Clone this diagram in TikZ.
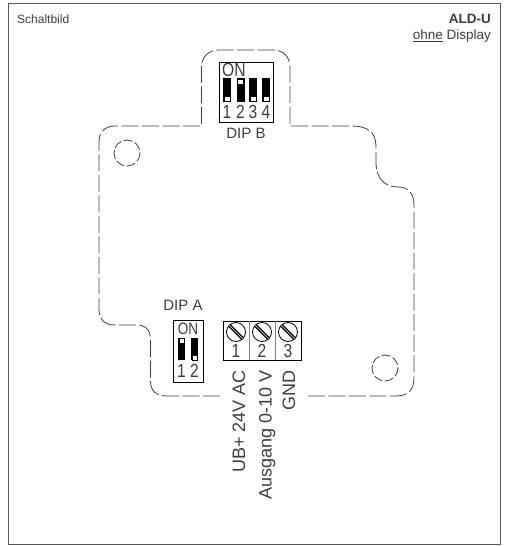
\documentclass[tikz,border=0pt]{standalone}
\usepackage{fontspec}
\setmainfont{Liberation Sans}
\newfontfamily\narrowfont[FakeStretch=0.82]{Liberation Sans}
\definecolor{ink}{gray}{0.24}
\begin{document}
\begin{tikzpicture}
  [x=1pt,y=-1pt,
   every node/.style={inner sep=0pt,text=ink,font=\fontsize{12}{13}\selectfont},
   corner/.style={font=\fontsize{13.5}{14}\selectfont},
   digit/.style={font=\narrowfont\fontsize{19}{19}\selectfont},
   dipname/.style={font=\fontsize{15}{16}\selectfont},
   wire/.style={rotate=90,anchor=base east,font=\fontsize{18}{18}\selectfont},
   housing/.style={draw=ink,line width=0.8pt,dash pattern=on 17pt off 3.5pt},
   box/.style={draw=black,line width=0.9pt},
   slider/.style={draw=black,fill=white,line width=0.6pt},
   screw/.style={circle,draw=black,line width=0.8pt,fill=white,minimum size=19pt}]
  \useasboundingbox (0,0) rectangle (505,546);
  \draw[gray!70!black,line width=1pt] (8,3) rectangle (500.5,544);
  \node[anchor=west] (title) at (17,19) {Schaltbild};
  \node[corner,anchor=east,font=\fontsize{13.5}{14}\selectfont\bfseries] (model) at (491,19) {ALD-U};
  \node[corner,anchor=east] (variant) at (491,36) {\underline{ohne} Display};
  % housing outline
  \draw[housing] (220,396) -- (167,396) .. controls (156,396) and (150.5,391) .. (150.5,381)
    -- (150.5,340) .. controls (150.5,330) and (146,325) .. (136,325)
    -- (115,325) .. controls (104,325) and (99,319) .. (99,309)
    -- (99,142) .. controls (99,132) and (105,126) .. (115,126)
    -- (201.5,126) -- (201.5,68) .. controls (201.5,57) and (208,50) .. (219,50)
    -- (273,50) .. controls (284,50) and (290,57) .. (290,68)
    -- (290,126) -- (352,126) .. controls (367,126) and (376,132) .. (376,146)
    -- (376,162) .. controls (376,179) and (385,187) .. (398,187)
    .. controls (408,187) and (414,193) .. (414,205)
    -- (414,378) .. controls (414,390) and (408,396) .. (396,396) -- (305,396);
  \draw[housing,dash pattern=on 9pt off 2.5pt] (127,153) circle (13);
  \draw[housing,dash pattern=on 9pt off 2.5pt] (385,368) circle (13);
  % DIP B
  \draw[box] (219,62) rectangle (273,122);
  \node[digit,anchor=west] (onB) at (222,70) {ON};
  \foreach \n/\x/\y in {1/227/101,2/240.5/84,3/253/101,4/266/101} {
    \fill[black] (\x-4,78) rectangle (\x+4,102);
    \draw[slider] (\x-2.8,\y-5) rectangle (\x+2.8,\y);
    \node[digit] (digB\n) at (\x,112) {\n};
  }
  \node[dipname] (dipB) at (246,133.5) {DIP B};
  % DIP A
  \draw[box] (173,320) rectangle (203,382);
  \node[digit,font=\narrowfont\fontsize{16.5}{17}\selectfont] (onA) at (188,329) {ON};
  \foreach \n/\x/\y in {1/181.5/343,2/194.5/360} {
    \fill[black] (\x-3.7,338) rectangle (\x+3.7,360);
    \draw[slider] (\x-2.6,\y-5) rectangle (\x+2.6,\y);
    \node[digit] (digA\n) at (\x,371) {\n};
  }
  \node[dipname] (dipA) at (183,305) {DIP A};
  % terminal block
  \draw[box] (223,321) rectangle (301,360);
  \draw[gray,line width=0.9pt] (249,321) -- (249,360) (275,321) -- (275,360);
  \foreach \n/\x in {1/236,2/262,3/288} {
    \node[screw] (screw\n) at (\x,332) {};
    \draw[black,line width=3.4pt] (screw\n.north west) -- (screw\n.south east);
    \draw[gray!60,line width=0.8pt] (screw\n.north west) -- (screw\n.south east);
    \node[digit] (term\n) at (\x,351) {\n};
  }
  \node[wire] (wireA) at (245,370) {UB+ 24V AC};
  \node[wire] (wireB) at (271.5,370) {Ausgang 0-10 V};
  \node[wire] (wireC) at (295,370) {GND};
\end{tikzpicture}
\end{document}
